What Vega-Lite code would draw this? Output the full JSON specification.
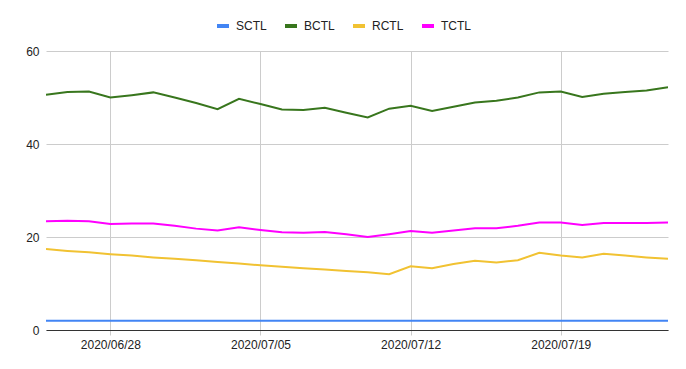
{
  "$schema": "https://vega.github.io/schema/vega-lite/v6.json",
  "width": 622,
  "height": 279,
  "autosize": {"type": "none"},
  "padding": {"left": 46, "top": 51, "right": 18, "bottom": 39},
  "background": "white",
  "config": {
    "view": {"stroke": null},
    "font": "Liberation Sans"
  },
  "datasets": {
    "wide": [
      {"date": "2020-06-25", "SCTL": 2, "BCTL": 50.6, "RCTL": 17.4, "TCTL": 23.4},
      {"date": "2020-06-26", "SCTL": 2, "BCTL": 51.2, "RCTL": 17.0, "TCTL": 23.5},
      {"date": "2020-06-27", "SCTL": 2, "BCTL": 51.3, "RCTL": 16.7, "TCTL": 23.4},
      {"date": "2020-06-28", "SCTL": 2, "BCTL": 50.0, "RCTL": 16.3, "TCTL": 22.8},
      {"date": "2020-06-29", "SCTL": 2, "BCTL": 50.5, "RCTL": 16.0, "TCTL": 22.9},
      {"date": "2020-06-30", "SCTL": 2, "BCTL": 51.1, "RCTL": 15.6, "TCTL": 22.9},
      {"date": "2020-07-01", "SCTL": 2, "BCTL": 50.0, "RCTL": 15.3, "TCTL": 22.4},
      {"date": "2020-07-02", "SCTL": 2, "BCTL": 48.8, "RCTL": 15.0, "TCTL": 21.8},
      {"date": "2020-07-03", "SCTL": 2, "BCTL": 47.5, "RCTL": 14.6, "TCTL": 21.4},
      {"date": "2020-07-04", "SCTL": 2, "BCTL": 49.7, "RCTL": 14.3, "TCTL": 22.1},
      {"date": "2020-07-05", "SCTL": 2, "BCTL": 48.6, "RCTL": 13.9, "TCTL": 21.5},
      {"date": "2020-07-06", "SCTL": 2, "BCTL": 47.4, "RCTL": 13.6, "TCTL": 21.0},
      {"date": "2020-07-07", "SCTL": 2, "BCTL": 47.3, "RCTL": 13.3, "TCTL": 20.9},
      {"date": "2020-07-08", "SCTL": 2, "BCTL": 47.8, "RCTL": 13.0, "TCTL": 21.1},
      {"date": "2020-07-09", "SCTL": 2, "BCTL": 46.7, "RCTL": 12.7, "TCTL": 20.6},
      {"date": "2020-07-10", "SCTL": 2, "BCTL": 45.7, "RCTL": 12.4, "TCTL": 20.0},
      {"date": "2020-07-11", "SCTL": 2, "BCTL": 47.6, "RCTL": 12.0, "TCTL": 20.6},
      {"date": "2020-07-12", "SCTL": 2, "BCTL": 48.2, "RCTL": 13.7, "TCTL": 21.3},
      {"date": "2020-07-13", "SCTL": 2, "BCTL": 47.1, "RCTL": 13.3, "TCTL": 20.9},
      {"date": "2020-07-14", "SCTL": 2, "BCTL": 48.0, "RCTL": 14.2, "TCTL": 21.4},
      {"date": "2020-07-15", "SCTL": 2, "BCTL": 48.9, "RCTL": 14.9, "TCTL": 21.9},
      {"date": "2020-07-16", "SCTL": 2, "BCTL": 49.3, "RCTL": 14.5, "TCTL": 21.9},
      {"date": "2020-07-17", "SCTL": 2, "BCTL": 50.0, "RCTL": 15.0, "TCTL": 22.4},
      {"date": "2020-07-18", "SCTL": 2, "BCTL": 51.1, "RCTL": 16.6, "TCTL": 23.1},
      {"date": "2020-07-19", "SCTL": 2, "BCTL": 51.3, "RCTL": 16.0, "TCTL": 23.1},
      {"date": "2020-07-20", "SCTL": 2, "BCTL": 50.1, "RCTL": 15.6, "TCTL": 22.6},
      {"date": "2020-07-21", "SCTL": 2, "BCTL": 50.8, "RCTL": 16.4, "TCTL": 23.0},
      {"date": "2020-07-22", "SCTL": 2, "BCTL": 51.2, "RCTL": 16.0, "TCTL": 23.0},
      {"date": "2020-07-23", "SCTL": 2, "BCTL": 51.5, "RCTL": 15.6, "TCTL": 23.0},
      {"date": "2020-07-24", "SCTL": 2, "BCTL": 52.2, "RCTL": 15.3, "TCTL": 23.1}
    ]
  },
  "data": {"name": "wide"},
  "transform": [
    {"fold": ["SCTL", "BCTL", "RCTL", "TCTL"], "as": ["series", "value"]}
  ],
  "mark": {"type": "line", "strokeWidth": 2, "clip": true},
  "encoding": {
    "x": {
      "field": "date",
      "type": "temporal",
      "scale": {"type": "utc", "nice": false},
      "axis": {
        "title": null,
        "format": "%Y/%m/%d",
        "tickCount": {"interval": "week", "step": 1},
        "grid": true,
        "gridColor": "#cccccc",
        "gridWidth": 1,
        "ticks": true,
        "tickColor": "#cccccc",
        "tickSize": 5,
        "domain": true,
        "domainColor": "#333333",
        "domainWidth": 1,
        "labelFont": "Liberation Sans",
        "labelFontSize": 12,
        "labelColor": "#222222",
        "labelPadding": 4,
        "labelOverlap": false
      }
    },
    "y": {
      "field": "value",
      "type": "quantitative",
      "scale": {"domain": [0, 60], "nice": false, "zero": true},
      "axis": {
        "title": null,
        "values": [0, 20, 40, 60],
        "grid": true,
        "gridColor": "#cccccc",
        "ticks": false,
        "domain": false,
        "labelFont": "Liberation Sans",
        "labelFontSize": 12,
        "labelColor": "#222222",
        "labelPadding": 7
      }
    },
    "color": {
      "field": "series",
      "type": "nominal",
      "scale": {
        "domain": ["SCTL", "BCTL", "RCTL", "TCTL"],
        "range": ["#4285F4", "#38761D", "#F1C232", "#FF00FF"]
      },
      "legend": {
        "title": null,
        "orient": "none",
        "direction": "horizontal",
        "legendX": 169,
        "legendY": -33,
        "padding": 0,
        "symbolType": "stroke",
        "symbolSize": 144,
        "symbolStrokeWidth": 4,
        "labelFont": "Liberation Sans",
        "labelFontSize": 12,
        "labelColor": "#222222",
        "labelOffset": 5,
        "columnPadding": 10
      }
    }
  }
}
